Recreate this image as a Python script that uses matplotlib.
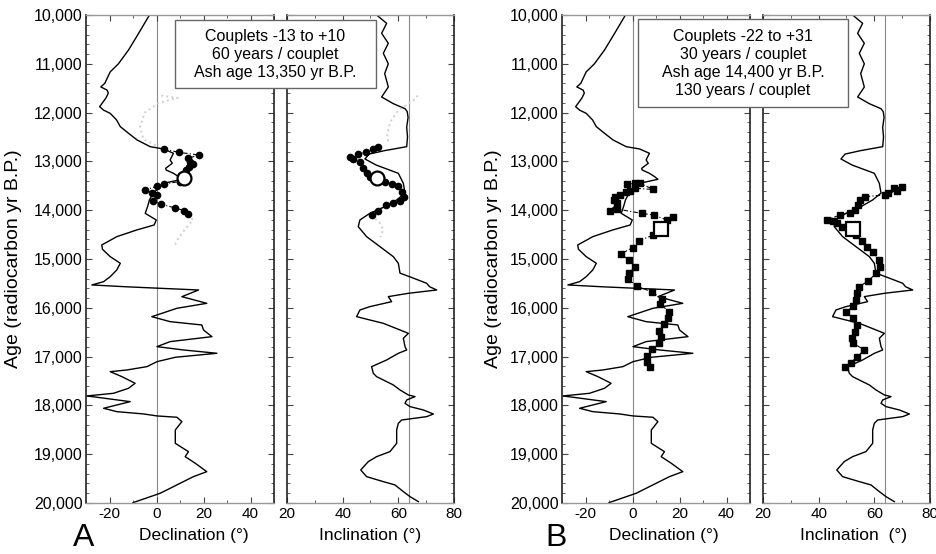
import matplotlib
matplotlib.use('Agg')
import matplotlib.pyplot as plt
from matplotlib.ticker import MultipleLocator, FuncFormatter
from matplotlib.patches import Rectangle

plt.rcParams['font.family'] = ['Liberation Sans', 'DejaVu Sans']
plt.rcParams['axes.unicode_minus'] = False

# ---------------- reference curves (age in radiocarbon yr B.P.) ----------------
dec_age = [10000, 10375, 10717, 11000, 11165, 11400, 11473, 11540, 11600, 11700, 11879, 11950,
           12015, 12150, 12288, 12424, 12560, 12698, 12745, 12834, 12971, 13039, 13142, 13176,
           13244, 13312, 13367, 13449, 13518, 13654, 13790, 13927, 14064, 14201, 14303, 14405,
           14542, 14713, 14800, 14952, 15088, 15225, 15362, 15464, 15532, 15570, 15635, 15772,
           15908, 16010, 16182, 16284, 16352, 16454, 16591, 16693, 16796, 16864, 16932, 17014,
           17104, 17206, 17274, 17309, 17411, 17547, 17649, 17752, 17806, 17923, 18059, 18128,
           18175, 18216, 18243, 18333, 18504, 18777, 18948, 19050, 19186, 19358, 19460, 19665,
           19800, 19993]
dec_val = [-3.0, -7.6, -11.9, -16.2, -19.7, -22.0, -23.7, -21.0, -20.5, -21.5, -24.2, -22.5,
           -19.7, -17.0, -15.4, -11.9, -8.3, -2.7, 3.0, 7.2, 5.8, 6.7, 3.9, 4.1,
           7.2, 9.4, 10.8, 3.0, 1.6, -1.5, -3.0, -3.8, -4.8, -0.1, -1.0, -8.4,
           -16.9, -23.3, -23.0, -19.7, -15.4, -16.9, -19.7, -22.5, -27.5, -12.6, 17.9, 10.8,
           21.4, 8.7, -2.0, 5.8, 19.3, 20.0, 23.6, 5.8, 0.2, 11.5, 25.7, 8.0,
           0.2, -4.1, -12.6, -19.7, -14.7, -9.1, -11.9, -18.3, -29.6, -11.2, -22.5, -16.9,
           -5.5, 0.2, 8.7, 10.8, 8.0, 8.0, 13.6, 12.2, 16.5, 21.4, 15.7, 7.2,
           1.6, -10.0]

inc_age = [10000, 10171, 10375, 10580, 10785, 11000, 11200, 11476, 11680, 11817, 11920, 11981,
           12100, 12300, 12500, 12698, 12780, 12850, 12950, 13074, 13244, 13450, 13650, 13790,
           13927, 14063, 14200, 14337, 14542, 14747, 14952, 15088, 15290, 15362, 15498, 15567,
           15635, 15703, 15771, 15874, 15976, 16045, 16181, 16250, 16318, 16454, 16523, 16625,
           16796, 16864, 16933, 17069, 17206, 17342, 17411, 17479, 17581, 17684, 17786, 17820,
           17889, 17957, 18025, 18094, 18176, 18230, 18299, 18367, 18503, 18777, 18947, 19050,
           19152, 19323, 19460, 19562, 19630, 19767, 19870, 19972]
inc_val = [52.2, 55.8, 54.0, 56.4, 54.6, 56.4, 55.1, 56.4, 54.0, 58.2, 62.4, 63.2,
           63.5, 63.0, 63.3, 63.0, 55.0, 49.5, 48.0, 52.0, 60.0, 61.8, 62.4, 59.4,
           55.2, 49.8, 46.2, 45.6, 48.6, 53.4, 58.2, 60.0, 60.6, 64.0, 70.2, 71.2,
           73.8, 63.6, 56.4, 57.6, 49.8, 46.2, 45.0, 49.8, 54.6, 60.6, 63.6, 61.8,
           62.4, 63.0, 60.0, 55.8, 50.4, 51.0, 52.2, 54.6, 58.2, 60.6, 63.6, 66.0,
           63.0, 62.4, 64.2, 69.0, 72.6, 70.2, 61.2, 60.0, 59.4, 59.4, 57.0, 52.2,
           49.2, 46.5, 48.6, 54.6, 58.8, 61.8, 64.2, 67.2]

# ---------------- A: couplets -13 to +10, 60 yr/couplet, ash 13,350 ----------------
a_ash_age = 13350
a_dec_age = [12745, 12814, 12868, 12937, 13005, 13060, 13120, 13180, 13415, 13463, 13504,
             13586, 13640, 13688, 13811, 13879, 13954, 14009, 14077]
a_dec_val = [3.0, 9.4, 17.9, 13.6, 14.3, 15.5, 14.0, 12.5, 9.8, 3.0, 0.4,
             -4.8, -2.0, 0.2, -1.5, 2.0, 8.0, 11.9, 13.6]
a_dec_ash = 11.9
a_inc_age = [12712, 12746, 12814, 12848, 12903, 12957, 13018, 13141, 13244, 13326, 13428,
             13463, 13497, 13620, 13736, 13805, 13846, 13893, 14010, 14098]
a_inc_val = [52.8, 51.0, 48.4, 45.4, 42.6, 43.8, 46.2, 47.4, 48.6, 49.8, 55.2,
             57.6, 59.8, 61.2, 62.2, 60.6, 58.2, 55.5, 52.8, 50.4]
a_inc_ash = 52.2

# faint grey (unused) couplet data
a_dec_grey1_age = [11650, 11700, 11800, 12000, 12300, 12550, 12700]
a_dec_grey1_val = [2.0, 9.0, 1.0, -5.0, -7.0, -5.5, 1.0]
a_dec_grey2_age = [14077, 14200, 14400, 14600, 14750]
a_dec_grey2_val = [13.6, 15.5, 12.0, 9.0, 7.5]
a_inc_grey1_age = [11650, 11750, 11950, 12200, 12450, 12650]
a_inc_grey1_val = [67.0, 65.4, 60.0, 57.0, 56.0, 56.5]
a_inc_grey2_age = [14098, 14270, 14400, 14550]
a_inc_grey2_val = [50.4, 53.4, 54.6, 53.5]

# ---------------- B: couplets -22 to +31, ash 14,400 ----------------
b_ash_age = 14380
b_dec_young_age = [13470, 13445, 13450, 13575, 13550, 13600, 13635, 13690, 13735, 13790,
                   13860, 14015, 13975, 14065, 14100, 14200, 14135]
b_dec_young_val = [-2.2, 1.0, 3.2, 8.9, 1.1, -1.1, -2.9, -5.3, -7.4, -7.9,
                   -6.5, -9.6, -6.7, 3.9, 9.1, 14.6, 17.4]
b_dec_ash = 12.1
b_dec_old_age = [14508, 14624, 14768, 14897, 15020, 15157, 15293, 15416, 15546, 15683, 15819,
                 15928, 16079, 16202, 16331, 16468, 16591, 16714, 16850, 16987, 17103, 17206]
b_dec_old_val = [8.9, 2.9, 0.1, -5.0, -1.5, 1.1, -1.4, -2.0, 1.8, 8.4, 12.7,
                 11.7, 15.7, 15.0, 13.5, 11.3, 12.1, 11.3, 8.2, 6.3, 6.0, 7.4]

b_inc_young_age = [13520, 13551, 13606, 13654, 13688, 13722, 13791, 13893, 13995, 14050,
                   14098, 14200, 14214, 14269, 14337]
b_inc_young_val = [70.0, 66.9, 68.0, 65.0, 63.9, 56.7, 54.9, 54.3, 53.1, 51.3,
                   47.7, 42.9, 45.3, 46.5, 48.3]
b_inc_ash = 52.5
b_inc_old_age = [14508, 14624, 14747, 14863, 15020, 15157, 15293, 15444, 15567, 15703, 15840,
                 15963, 16092, 16215, 16352, 16489, 16612, 16728, 16864, 17001, 17124, 17219]
b_inc_old_val = [53.4, 55.5, 57.3, 59.7, 61.5, 62.1, 60.7, 57.9, 54.6, 53.7, 53.3,
                 52.5, 49.8, 52.5, 53.9, 53.1, 51.9, 52.5, 56.4, 53.9, 51.6, 49.5]

# ---------------- texts ----------------
box_a = "Couplets -13 to +10\n60 years / couplet\nAsh age 13,350 yr B.P."
box_b = "Couplets -22 to +31\n30 years / couplet\nAsh age 14,400 yr B.P.\n130 years / couplet"
dec_ticks = [-20, 0, 20, 40]
inc_ticks = [20, 40, 60, 80]

W, H = 937, 554
fig = plt.figure(figsize=(W / 100, H / 100), dpi=100)


def rect(l, r, t=15, b=503):
    return [l / W, (H - b) / H, (r - l) / W, (b - t) / H]


def style(ax, xlim, ticks, ylabels):
    ax.set_xlim(*xlim)
    ax.set_ylim(20000, 10000)
    ax.yaxis.set_major_locator(MultipleLocator(1000))
    ax.yaxis.set_minor_locator(MultipleLocator(200))
    ax.set_xticks(ticks)
    ax.xaxis.set_minor_locator(MultipleLocator(10))
    ax.tick_params(which='both', direction='in', top=True, right=True,
                   color='#444', pad=3)
    ax.tick_params(axis='x', labelsize=11)
    ax.tick_params(axis='y', labelsize=11.5, pad=2.5)
    ax.tick_params(which='major', length=4, width=0.8)
    ax.tick_params(which='minor', length=2.5, width=0.6)
    for s in ('left', 'right'):
        ax.spines[s].set_color('#222')
        ax.spines[s].set_linewidth(1.2)
    for s in ('top', 'bottom'):
        ax.spines[s].set_color('#999')
        ax.spines[s].set_linewidth(1.0)
    if ylabels:
        ax.yaxis.set_major_formatter(FuncFormatter(lambda v, p: f"{int(v):,}"))
    else:
        ax.set_yticklabels([])


def couplets(ax, young_v, young_a, ash_v, ash_a, old_v, old_a, marker, ms, ash_ms):
    xs = list(young_v) + [ash_v] + list(old_v)
    ys = list(young_a) + [ash_a] + list(old_a)
    ax.plot(xs, ys, color='k', lw=0.8, ls=(0, (4, 2, 1, 2)), zorder=3)
    ax.plot(list(young_v) + list(old_v), list(young_a) + list(old_a), ls='none',
            marker=marker, ms=ms, mfc='k', mec='k', zorder=4)
    ax.plot([ash_v], [ash_a], ls='none', marker=marker, ms=ash_ms, mfc='white',
            mec='k', mew=1.6, zorder=5)


def grey(ax, v, a):
    ax.plot(v, a, color='#cfcfcf', lw=1.4, ls=':', zorder=2)


axes = {}
axes['ad'] = fig.add_axes(rect(86, 274))
axes['ai'] = fig.add_axes(rect(287, 454))
axes['bd'] = fig.add_axes(rect(562, 750))
axes['bi'] = fig.add_axes(rect(763, 930))

for key in ('ad', 'bd'):
    ax = axes[key]
    style(ax, (-30, 50), dec_ticks, True)
    ax.axvline(0, color='#888', lw=0.8, zorder=1)
    ax.plot(dec_val, dec_age, color='k', lw=1.0, zorder=2)
for key in ('ai', 'bi'):
    ax = axes[key]
    style(ax, (20, 80), inc_ticks, False)
    ax.axvline(64, color='#888', lw=0.8, zorder=1)
    ax.plot(inc_val, inc_age, color='k', lw=1.0, zorder=2)

# A panel couplet data
ax = axes['ad']
grey(ax, a_dec_grey1_val, a_dec_grey1_age)
grey(ax, a_dec_grey2_val, a_dec_grey2_age)
yv = [v for v, a in zip(a_dec_val, a_dec_age) if a < a_ash_age]
ya = [a for a in a_dec_age if a < a_ash_age]
ov = [v for v, a in zip(a_dec_val, a_dec_age) if a > a_ash_age]
oa = [a for a in a_dec_age if a > a_ash_age]
couplets(ax, yv, ya, a_dec_ash, a_ash_age, ov, oa, 'o', 4.5, 10)

ax = axes['ai']
grey(ax, a_inc_grey1_val, a_inc_grey1_age)
grey(ax, a_inc_grey2_val, a_inc_grey2_age)
yv = [v for v, a in zip(a_inc_val, a_inc_age) if a < a_ash_age]
ya = [a for a in a_inc_age if a < a_ash_age]
ov = [v for v, a in zip(a_inc_val, a_inc_age) if a > a_ash_age]
oa = [a for a in a_inc_age if a > a_ash_age]
couplets(ax, yv, ya, a_inc_ash, a_ash_age, ov, oa, 'o', 4.5, 10)

# B panel couplet data
couplets(axes['bd'], b_dec_young_val, b_dec_young_age, b_dec_ash, b_ash_age,
         b_dec_old_val, b_dec_old_age, 's', 4.2, 9.5)
couplets(axes['bi'], b_inc_young_val, b_inc_young_age, b_inc_ash, b_ash_age,
         b_inc_old_val, b_inc_old_age, 's', 4.2, 9.5)

# axis labels
lab_fs = 12.5
axes['ad'].text(0.574, -0.066, 'Declination (°)', transform=axes['ad'].transAxes,
                ha='center', va='center', fontsize=lab_fs)
axes['ai'].text(0.497, -0.066, 'Inclination (°)', transform=axes['ai'].transAxes,
                ha='center', va='center', fontsize=lab_fs)
axes['bd'].text(0.54, -0.066, 'Declination (°)', transform=axes['bd'].transAxes,
                ha='center', va='center', fontsize=lab_fs)
axes['bi'].text(0.542, -0.066, 'Inclination  (°)', transform=axes['bi'].transAxes,
                ha='center', va='center', fontsize=lab_fs)

fig.text(14 / W, 1 - 259 / H, 'Age (radiocarbon yr B.P.)', rotation=90,
         ha='center', va='center', fontsize=14)
fig.text(494 / W, 1 - 259 / H, 'Age (radiocarbon yr B.P.)', rotation=90,
         ha='center', va='center', fontsize=14)

fig.text(84 / W, 1.5 / H, 'A', ha='center', va='bottom', fontsize=23)
fig.text(556 / W, 1.5 / H, 'B', ha='center', va='bottom', fontsize=23)

# text boxes (figure pixel coordinates)
def box(l, r, t, b, txt):
    fig.add_artist(Rectangle((l / W, 1 - b / H), (r - l) / W, (b - t) / H,
                             transform=fig.transFigure, facecolor='white',
                             edgecolor='#666', lw=1.0, zorder=10))
    fig.text((l + r) / 2 / W, 1 - (t + b) / 2 / H, txt, ha='center', va='center',
             fontsize=11.5, linespacing=1.25, zorder=11)


box(175, 376, 20, 88, box_a)
box(638, 848, 19, 107, box_b)

fig.savefig('out.png', dpi=100)
